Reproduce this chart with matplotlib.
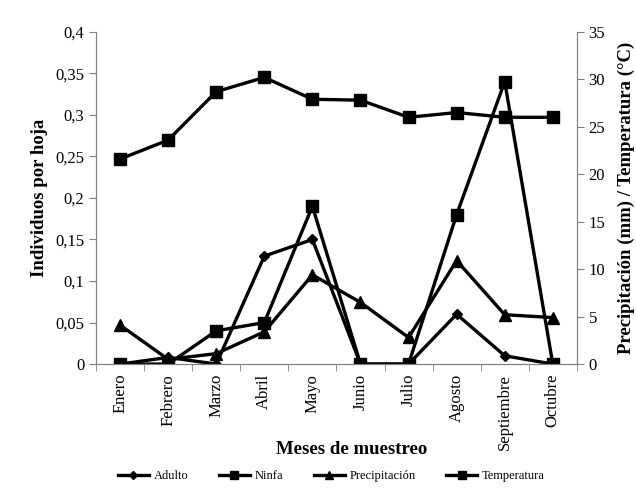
import matplotlib.pyplot as plt
import numpy as np

plt.rcParams['font.family'] = ['Liberation Serif', 'DejaVu Serif']

meses = ["Enero", "Febrero", "Marzo", "Abril", "Mayo", "Junio", "Julio",
         "Agosto", "Septiembre", "Octubre"]
adulto = [0, 0.008, 0, 0.13, 0.15, 0, 0, 0.06, 0.01, 0]
ninfa = [0, 0, 0.04, 0.05, 0.19, 0, 0, 0.18, 0.34, 0]
precipitacion = [4.1, 0.5, 1.1, 3.4, 9.4, 6.5, 2.8, 10.9, 5.2, 4.9]
temperatura = [21.6, 23.6, 28.7, 30.2, 27.9, 27.8, 26.0, 26.5, 26.0, 26.0]

GREY = "#808080"
x = np.arange(len(meses))

fig = plt.figure(figsize=(6.36, 4.9), dpi=100)
ax = fig.add_axes([0.151, 0.257, 0.756, 0.678])
ax2 = ax.twinx()

lw = 2.4
l1, = ax.plot(x, adulto, color="black", lw=lw, marker="D", ms=5, label="Adulto")
l2, = ax.plot(x, ninfa, color="black", lw=lw, marker="s", ms=8, label="Ninfa")
l3, = ax2.plot(x, precipitacion, color="black", lw=lw, marker="^", ms=8,
               label="Precipitación")
l4, = ax2.plot(x, temperatura, color="black", lw=lw, marker="s", ms=8,
               label="Temperatura")

ax.set_xlim(-0.5, len(meses) - 0.5)
ax.set_ylim(0, 0.4)
ax2.set_ylim(0, 35)
ax.set_yticks(np.arange(0, 0.41, 0.05))
ax.set_yticklabels(["0", "0,05", "0,1", "0,15", "0,2", "0,25", "0,3", "0,35", "0,4"])
ax2.set_yticks(np.arange(0, 36, 5))

ax.set_xticks(x)
ax.set_xticklabels(meses, rotation=90)
ax.set_xticks(np.arange(-0.5, len(meses)), minor=True)
ax.tick_params(axis="x", which="major", length=0, pad=7)
ax.tick_params(axis="x", which="minor", length=5, color=GREY)
ax.tick_params(axis="y", length=5, color=GREY)
ax2.tick_params(axis="y", length=5, color=GREY)
ax.tick_params(labelsize=12)
ax2.tick_params(labelsize=12)

for a in (ax, ax2):
    a.spines["top"].set_visible(False)
    for s in ("left", "right", "bottom"):
        a.spines[s].set_color(GREY)

ax.set_ylabel("Individuos por hoja", fontsize=13.5, fontweight="bold", labelpad=5)
ax2.set_ylabel("Precipitación (mm) / Temperatura (°C)", fontsize=13.5,
               fontweight="bold", labelpad=9)
fig.text(0.553, 0.082, "Meses de muestreo", fontsize=13.5, fontweight="bold",
         ha="center", va="center")

fig.legend(handles=[l1, l2, l3, l4], loc="center", bbox_to_anchor=(0.521, 0.028),
           ncol=4, frameon=False, fontsize=9, handlelength=2.5,
           columnspacing=2.4, handletextpad=0.4, markerscale=0.8)

fig.savefig("out.png", dpi=100)
